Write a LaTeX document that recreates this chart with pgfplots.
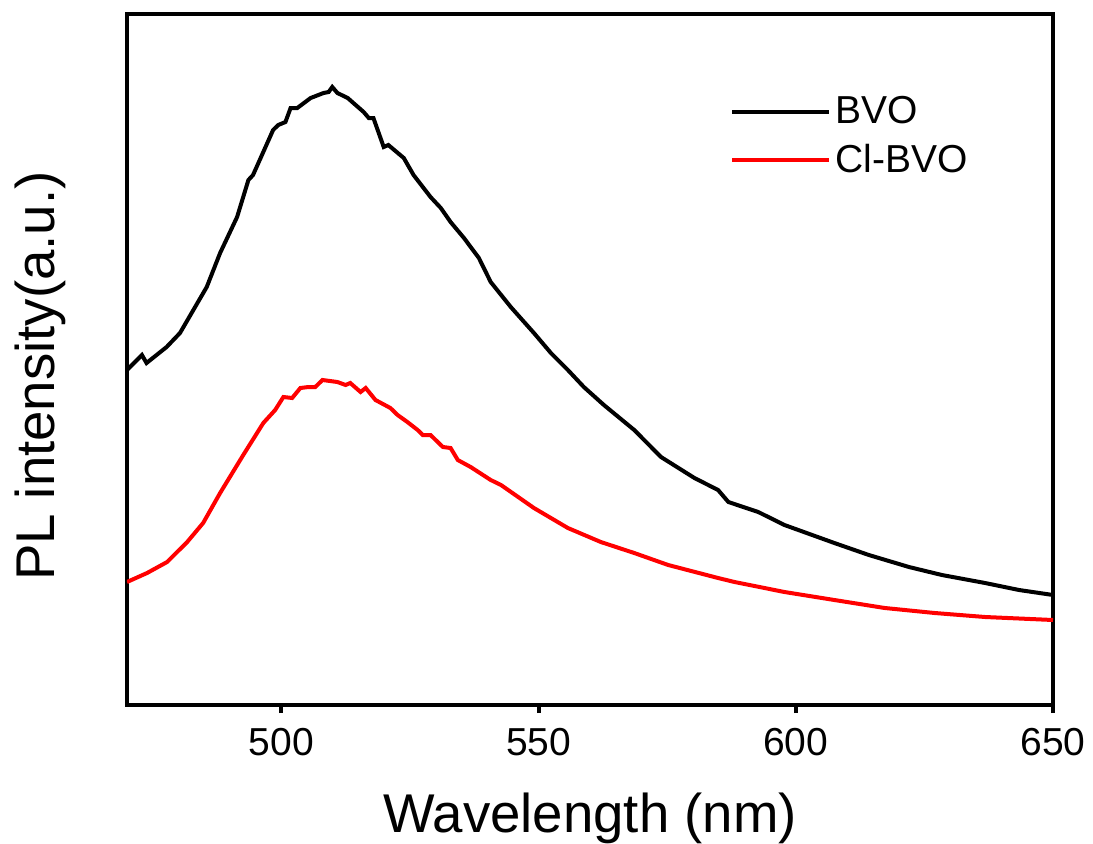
\documentclass[border=0pt]{standalone}
\usepackage{pgfplots}
\pgfplotsset{compat=1.18}
\usepackage{fontspec}
\setmainfont{Liberation Sans}

\begin{document}
\begin{tikzpicture}
\path[use as bounding box] (-63.5pt,-69pt) rectangle (483pt,352.5pt);
\begin{axis}[
  scale only axis, width=463pt, height=345.5pt,
  at={(0,0)}, anchor=south west,
  xmin=470, xmax=650, ymin=0, ymax=691,
  xtick={500,550,600,650}, ytick=\empty,
  xtick pos=bottom,
  tick align=outside, major tick length=4pt,
  axis line style={line width=2pt},
  every tick/.style={line width=2pt, black},
  /pgf/number format/assume math mode=true,
  tick label style={font=\fontsize{19.5}{23}\selectfont},
  xticklabel style={yshift=-4pt},
  label style={font=\fontsize{27.3}{32}\selectfont},
  xlabel={Wavelength (nm)},
  xlabel style={yshift=-12pt},
  ylabel={PL intensity(a.u.)},
  ylabel style={at={(axis description cs:-0.094,0.476)}, anchor=center, rotate=0},
  legend style={draw=none, fill=none, at={(axis description cs:0.651,0.887)}, anchor=north west,
    font=\fontsize{19.5}{23}\selectfont, row sep=5pt, inner sep=0pt},
  legend cell align=left,
  legend image code/.code={\draw[#1] (0pt,0pt) -- (48.5pt,0pt);},
]
\addplot[black, line width=2pt] coordinates {
(470.0,335) (472.9,350) (473.8,342) (477.7,358) (480.3,372) (485.5,418) (488.1,452)
(491.4,488) (493.6,525) (494.5,530) (498.4,575) (499.4,580) (500.8,583) (501.8,597)
(503.1,597) (505.7,607) (508.2,612) (509.2,613) (509.9,618) (510.9,612) (512.9,607)
(516.0,593) (517.0,587) (517.9,587) (519.9,558) (520.8,560) (523.8,547) (525.7,530)
(529.0,508) (531.0,497) (532.9,483) (535.5,467) (538.4,447) (540.7,423) (544.6,398)
(549.1,372) (552.4,352) (555.7,335) (558.8,318) (562.7,300) (568.6,275) (573.8,248)
(580.3,227) (584.9,215) (586.9,203) (592.7,193) (597.8,180) (607.5,162) (614.2,150)
(622.0,138) (628.4,130) (636.8,122) (643.4,115) (650,110)
};
\addlegendentry{BVO}
\addplot[red, line width=2pt] coordinates {
(470.0,123) (473.9,132) (477.8,143) (481.7,163) (484.8,182) (488.1,212) (492.6,250)
(496.5,282) (498.8,295) (500.4,308) (502.1,307) (503.7,317) (505.3,318) (506.6,318)
(508.0,325) (510.9,323) (512.5,320) (513.4,322) (515.4,313) (516.4,317) (518.3,305)
(521.2,297) (522.6,290) (524.5,283) (526.5,275) (527.5,270) (529.0,270) (531.4,258)
(532.9,257) (534.3,245) (536.8,238) (540.7,225) (542.7,220) (549.1,197) (555.7,177)
(562.1,163) (568.6,152) (575.2,140) (584.9,127) (588.1,123) (597.8,113) (607.5,105)
(617.3,97) (627.0,92) (636.8,88) (650,85)
};
\addlegendentry{Cl-BVO}
\end{axis}
\end{tikzpicture}
\end{document}
